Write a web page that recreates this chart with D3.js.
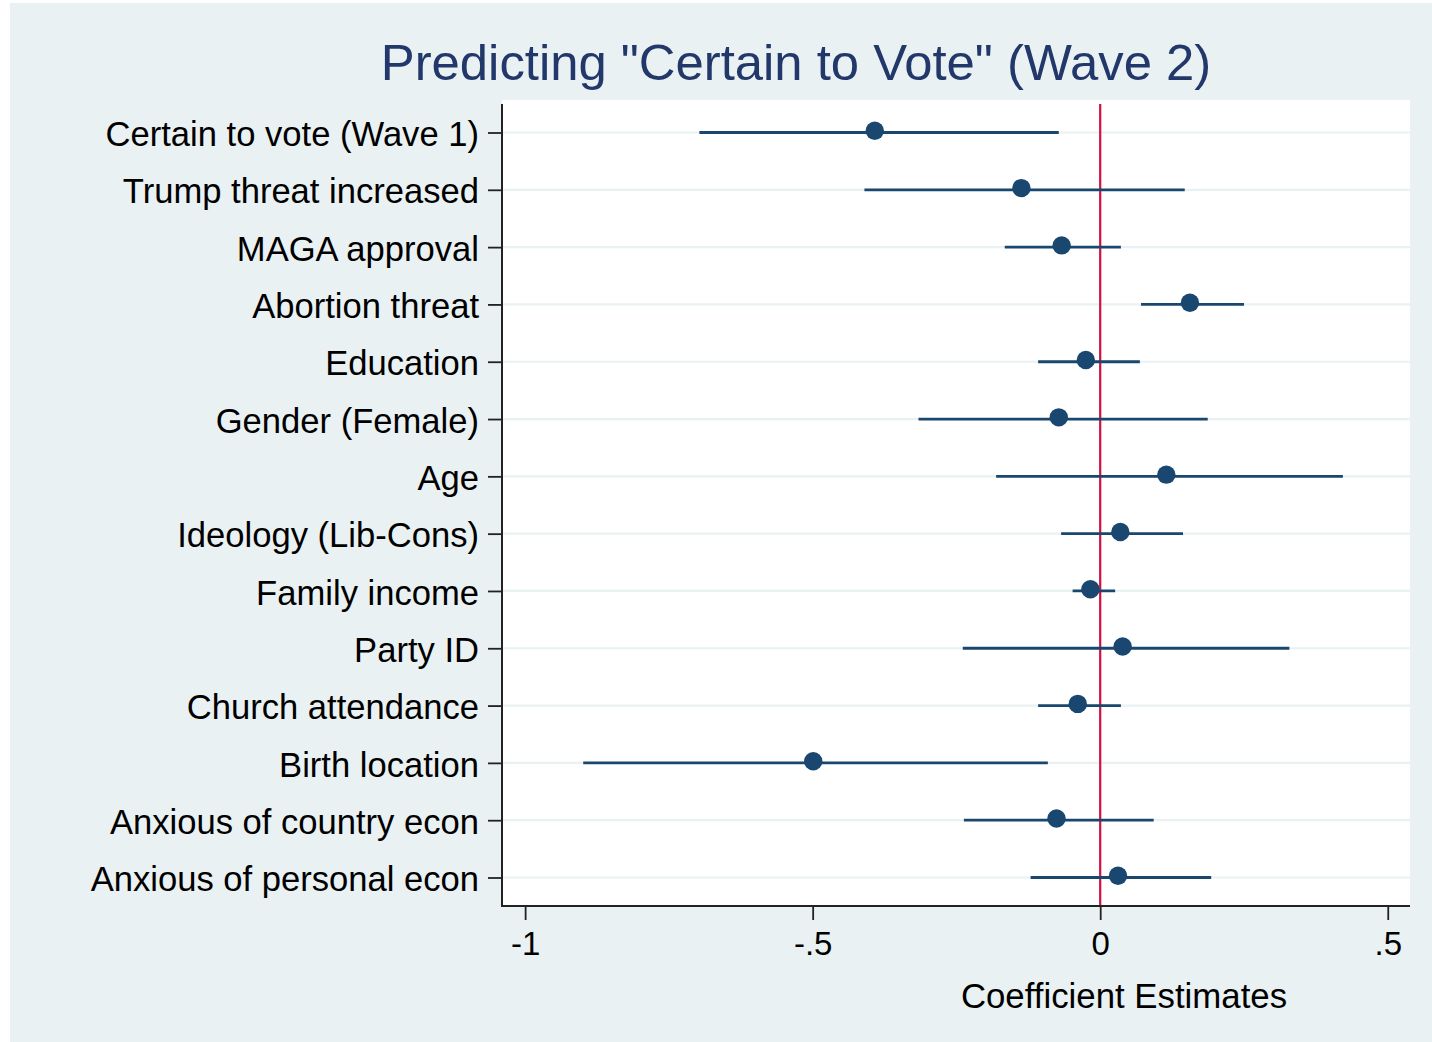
<!DOCTYPE html>
<html>
<head>
<meta charset="utf-8">
<script src="https://cdn.jsdelivr.net/npm/d3@7"></script>
<style>
	html, body { margin: 0; padding: 0; background: #ffffff; }
	svg { display: block; font-family: "Liberation Sans", Arial, Helvetica, sans-serif; }
</style>
</head>
<body>
<div id="chart"></div>
<script>
// variables, top to bottom
var categories = [
	"Certain to vote (Wave 1)",
	"Trump threat increased",
	"MAGA approval",
	"Abortion threat",
	"Education",
	"Gender (Female)",
	"Age",
	"Ideology (Lib-Cons)",
	"Family income",
	"Party ID",
	"Church attendance",
	"Birth location",
	"Anxious of country econ",
	"Anxious of personal econ"
];

// point estimates
var coef = [-0.392, -0.137, -0.067, 0.156, -0.025, -0.072, 0.115, 0.035, -0.017, 0.039, -0.039, -0.499, -0.076, 0.031];

// 95% CI
var ciLow  = [-0.697, -0.410, -0.166, 0.071, -0.108, -0.316, -0.181, -0.068, -0.048, -0.239, -0.108, -0.899, -0.237, -0.121];
var ciHigh = [-0.072, 0.147, 0.036, 0.250, 0.069, 0.187, 0.422, 0.144, 0.026, 0.329, 0.036, -0.091, 0.093, 0.193];

var xTicks = [-1, -0.5, 0, 0.5];
var xTickLabels = ["-1", "-.5", "0", ".5"];

var W = 1432, H = 1042;
var plot = { left: 502, right: 1410, top: 100, bottom: 906 };

var navy = "#1a476f";

var rows = categories.map(function(c, i){
	return { name: c, b: coef[i], lo: ciLow[i], hi: ciHigh[i] };
});

var svg = d3.select("#chart").append("svg")
	.attr("width", W)
	.attr("height", H);

// outer background
svg.append("rect")
	.attr("x", 10).attr("y", 3)
	.attr("width", W - 10).attr("height", H - 3)
	.attr("fill", "#eaf1f3");

// plot region
svg.append("rect")
	.attr("x", plot.left).attr("y", plot.top)
	.attr("width", plot.right - plot.left).attr("height", plot.bottom - plot.top)
	.attr("fill", "#ffffff");

var x = d3.scaleLinear()
	.domain([-1.0402, 0.5387])
	.range([plot.left, plot.right]);

var y = d3.scalePoint()
	.domain(categories)
	.range([132.5, 877.5]);

// grid lines
svg.append("g")
	.selectAll("line")
	.data(categories)
	.enter().append("line")
	.attr("x1", plot.left).attr("x2", plot.right)
	.attr("y1", function(d){ return y(d); })
	.attr("y2", function(d){ return y(d); })
	.attr("stroke", "#eaf1f3")
	.attr("stroke-width", 2.2);

// zero reference line
svg.append("line")
	.attr("x1", x(0)).attr("x2", x(0))
	.attr("y1", 104).attr("y2", plot.bottom)
	.attr("stroke", "#d01040")
	.attr("stroke-width", 2.2);

// CI spikes
svg.append("g")
	.selectAll("line")
	.data(rows)
	.enter().append("line")
	.attr("x1", function(d){ return x(d.lo); })
	.attr("x2", function(d){ return x(d.hi); })
	.attr("y1", function(d){ return y(d.name); })
	.attr("y2", function(d){ return y(d.name); })
	.attr("stroke", navy)
	.attr("stroke-width", 2.8);

// estimates
svg.append("g")
	.selectAll("circle")
	.data(rows)
	.enter().append("circle")
	.attr("cx", function(d){ return x(d.b); })
	.attr("cy", function(d){ return y(d.name) - 1.7; })
	.attr("r", 9.2)
	.attr("fill", navy);

// y axis
var yAxis = svg.append("g")
	.attr("transform", "translate(" + plot.left + ",0)")
	.call(d3.axisLeft(y).tickSize(14).tickSizeOuter(0).tickPadding(9));
yAxis.select(".domain").remove();
yAxis.selectAll(".tick line").attr("stroke", "#222").attr("stroke-width", 1.8);
yAxis.selectAll(".tick text")
	.attr("dy", "0.38em")
	.attr("fill", "#000")
	.style("font-size", "34.6px");

svg.append("line")
	.attr("x1", plot.left).attr("x2", plot.left)
	.attr("y1", 104).attr("y2", plot.bottom + 1)
	.attr("stroke", "#222").attr("stroke-width", 2);

// x axis
var xAxis = svg.append("g")
	.attr("transform", "translate(0," + plot.bottom + ")")
	.call(d3.axisBottom(x)
		.tickValues(xTicks)
		.tickFormat(function(d, i){ return xTickLabels[i]; })
		.tickSize(14).tickSizeOuter(0).tickPadding(12));
xAxis.select(".domain").remove();
xAxis.selectAll(".tick line").attr("stroke", "#222").attr("stroke-width", 1.8);
xAxis.selectAll(".tick text")
	.attr("fill", "#000")
	.style("font-size", "33px");

svg.append("line")
	.attr("x1", plot.left - 1).attr("x2", plot.right)
	.attr("y1", plot.bottom).attr("y2", plot.bottom)
	.attr("stroke", "#222").attr("stroke-width", 2);

// axis title
svg.append("text")
	.attr("x", 1124).attr("y", 1008)
	.attr("text-anchor", "middle")
	.style("font-size", "34.8px")
	.attr("fill", "#000")
	.text("Coefficient Estimates");

// title
svg.append("text")
	.attr("x", 796).attr("y", 80)
	.attr("text-anchor", "middle")
	.style("font-size", "50.8px")
	.attr("fill", "#22386a")
	.text("Predicting \"Certain to Vote\" (Wave 2)");
</script>
</body>
</html>
